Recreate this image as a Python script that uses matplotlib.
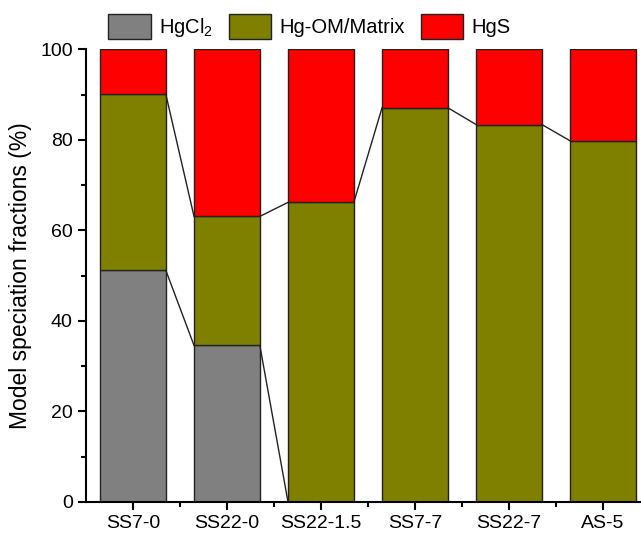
import numpy as np
import matplotlib
matplotlib.use('Agg')
import matplotlib.pyplot as plt
from matplotlib.ticker import MultipleLocator

plt.rcParams['font.family'] = ['Liberation Sans', 'DejaVu Sans']
plt.rcParams['mathtext.default'] = 'regular'

samples = ['SS7-0', 'SS22-0', 'SS22-1.5', 'SS7-7', 'SS22-7', 'AS-5']
hgcl2 = [51.2, 34.6, 0, 0, 0, 0]
hg_om = [38.9, 28.5, 66.2, 87.1, 83.4, 79.8]
hgs = [9.9, 36.9, 33.8, 12.9, 16.6, 20.2]

labels = ['HgCl$_2$', 'Hg-OM/Matrix', 'HgS']
colors = ['#808080', '#808000', '#FF0000']

fig = plt.figure(figsize=(6.41, 5.35), dpi=100)
ax = fig.add_axes([0.134, 0.0617, 0.88, 0.846])

x = np.arange(len(samples))
w = 0.7
layers = [np.array(hgcl2), np.array(hg_om), np.array(hgs)]
bottom = np.zeros(len(samples))
tops = []
for vals, lab, c in zip(layers, labels, colors):
    ax.bar(x, vals, w, bottom=bottom, color=c, edgecolor='#222222', linewidth=1.0, label=lab)
    bottom = bottom + vals
    tops.append(bottom.copy())

# connecting lines between stacked boundaries
for t in tops[:2]:
    for i in range(len(samples) - 1):
        ax.plot([x[i] + w / 2, x[i + 1] - w / 2], [t[i], t[i + 1]], color='#222222', lw=1.0)

ax.set_xlim(-0.5, 5.5)
ax.set_ylim(0, 100)
ax.set_xticks(x)
ax.set_xticklabels(samples)
ax.set_xticks(x[:-1] + 0.5, minor=True)
ax.yaxis.set_major_locator(MultipleLocator(20))
ax.yaxis.set_minor_locator(MultipleLocator(10))
ax.tick_params(which='major', direction='out', length=6, width=1.5, labelsize=14)
ax.tick_params(which='minor', direction='out', length=3.5, width=1.5)
for s in ['top', 'right']:
    ax.spines[s].set_visible(False)
for s in ['left', 'bottom']:
    ax.spines[s].set_linewidth(1.5)
ax.set_ylabel('Model speciation fractions (%)', fontsize=16.5, labelpad=6)

ax.legend(loc='lower left', bbox_to_anchor=(0.022, 1.0), ncol=3, frameon=False,
          fontsize=14.5, handlelength=2.1, handleheight=1.5, columnspacing=0.8,
          handletextpad=0.4, borderaxespad=0.1)

fig.savefig('out.png', dpi=100)
